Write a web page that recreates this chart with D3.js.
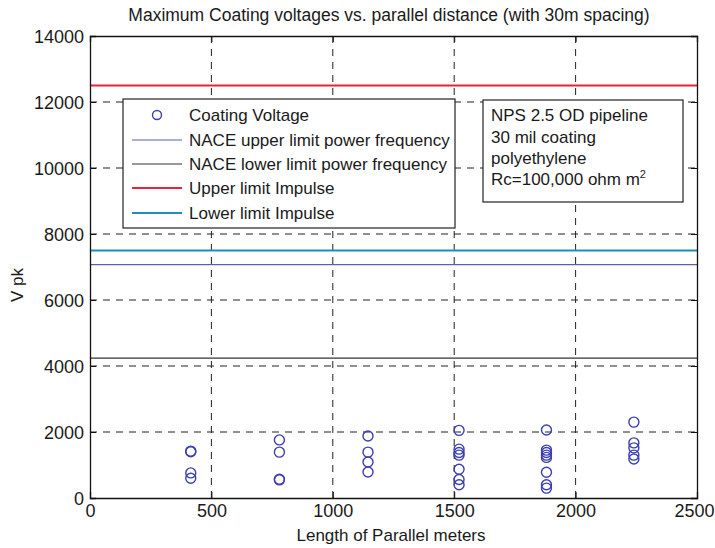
<!DOCTYPE html>
<html>
<head>
<meta charset="utf-8">
<script src="https://cdn.jsdelivr.net/npm/d3@7/dist/d3.min.js"></script>
<style>
  body { margin: 0; background: #fff; }
  svg { font-family: "Liberation Sans", Arial, sans-serif; }
</style>
</head>
<body>
<svg id="chart" width="715" height="548"></svg>
<script>
// Coating voltage samples (length of parallel [m], peak voltage [V])
const lengths = [415, 415, 415, 415,
                 780, 780, 780, 780,
                 1145, 1145, 1145, 1145,
                 1520, 1520, 1520, 1520, 1520, 1520, 1520,
                 1880, 1880, 1880, 1880, 1880, 1880, 1880, 1880,
                 2240, 2240, 2240, 2240, 2240];
const voltages = [1420, 1400, 760, 600,
                  1760, 1390, 570, 550,
                  1880, 1390, 1090, 790,
                  2050, 1480, 1380, 1300, 870, 560, 400,
                  2060, 1450, 1380, 1300, 1230, 780, 400, 300,
                  2300, 1670, 1520, 1300, 1180];

const limitNames = ["NACE upper limit power frequency", "NACE lower limit power frequency",
                    "Upper limit Impulse", "Lower limit Impulse"];
const limitValues = [7070, 4240, 12500, 7500];
const limitColors = ["#5a5fb0", "#333333", "#e8213c", "#1f8db5"];
const limitWidths = [1.2, 1.2, 2.2, 2.2];

const xTicks = [0, 500, 1000, 1500, 2000, 2500];
const yTicks = [0, 2000, 4000, 6000, 8000, 10000, 12000, 14000];
const noteLines = ["NPS 2.5 OD pipeline", "30 mil coating", "polyethylene", "Rc=100,000 ohm m"];

const svg = d3.select("#chart");
const m = {left: 90, right: 697, top: 36, bottom: 498};
const x = d3.scaleLinear().domain([0, 2500]).range([m.left, m.right]);
const y = d3.scaleLinear().domain([0, 14000]).range([m.bottom, m.top]);
const ink = "#1a1a1a";

// grid
const grid = svg.append("g").attr("stroke", "#222").attr("stroke-width", 1).attr("stroke-dasharray", "7,6");
xTicks.slice(1, -1).forEach(t => grid.append("line").attr("x1", x(t)).attr("x2", x(t)).attr("y1", m.top).attr("y2", m.bottom));
yTicks.slice(1, -1).forEach(t => grid.append("line").attr("x1", m.left).attr("x2", m.right).attr("y1", y(t)).attr("y2", y(t)));

// limit lines
limitValues.forEach((v, i) => {
  svg.append("line").attr("x1", m.left).attr("x2", m.right)
    .attr("y1", y(v)).attr("y2", y(v))
    .attr("stroke", limitColors[i]).attr("stroke-width", limitWidths[i]);
});

// points
svg.append("g").selectAll("circle").data(lengths).join("circle")
  .attr("cx", (d) => x(d)).attr("cy", (d, i) => y(voltages[i]))
  .attr("r", 5).attr("fill", "none").attr("stroke", "#3b3fb0").attr("stroke-width", 1.4);

// axes
const xAxis = svg.append("g").attr("transform", `translate(0,${m.bottom})`)
  .call(d3.axisBottom(x).tickValues(xTicks).tickSize(-6).tickPadding(6).tickFormat(d3.format("d")));
const xTop = svg.append("g").attr("transform", `translate(0,${m.top})`)
  .call(d3.axisTop(x).tickValues(xTicks).tickSize(-6).tickFormat(""));
const yAxis = svg.append("g").attr("transform", `translate(${m.left},0)`)
  .call(d3.axisLeft(y).tickValues(yTicks).tickSize(-6).tickPadding(6).tickFormat(d3.format("d")));
const yRight = svg.append("g").attr("transform", `translate(${m.right},0)`)
  .call(d3.axisRight(y).tickValues(yTicks).tickSize(-6).tickFormat(""));
[xAxis, xTop, yAxis, yRight].forEach(a => {
  a.select(".domain").attr("stroke", "#111").attr("stroke-width", 1.3);
  a.selectAll(".tick line").attr("stroke", "#111");
  a.selectAll("text").attr("font-size", "18px").attr("fill", ink).attr("font-family", "Liberation Sans, Arial, sans-serif");
});
yAxis.selectAll("text").attr("dy", "0.35em");
// keep the last x label inside the page, as in the reference
xAxis.selectAll(".tick text").filter(d => d === 2500).attr("text-anchor", "end").attr("x", 17);

// title and labels
svg.append("text").attr("x", 389).attr("y", 21).attr("text-anchor", "middle")
  .attr("font-size", "17.5px").attr("fill", ink)
  .text("Maximum Coating voltages vs. parallel distance (with 30m spacing)");
svg.append("text").attr("x", 391).attr("y", 541).attr("text-anchor", "middle")
  .attr("font-size", "17px").attr("fill", ink).text("Length of Parallel meters");
svg.append("text").attr("transform", "translate(23,285) rotate(-90)").attr("text-anchor", "middle")
  .attr("font-size", "17px").attr("fill", ink).text("V pk");

// legend
const lg = svg.append("g");
lg.append("rect").attr("x", 123).attr("y", 99).attr("width", 332).attr("height", 129)
  .attr("fill", "#fff").attr("stroke", "#222").attr("stroke-width", 1.2);
const rowY = [115, 140, 164, 188, 213];
lg.append("circle").attr("cx", 157).attr("cy", rowY[0]).attr("r", 4.5)
  .attr("fill", "none").attr("stroke", "#3b3fb0").attr("stroke-width", 1.4);
lg.append("text").attr("x", 189).attr("y", rowY[0]).attr("dy", "0.36em").attr("font-size", "17px").attr("fill", ink).text("Coating Voltage");
limitNames.forEach((n, i) => {
  lg.append("line").attr("x1", 132).attr("x2", 182).attr("y1", rowY[i + 1]).attr("y2", rowY[i + 1])
    .attr("stroke", limitColors[i]).attr("stroke-width", limitWidths[i]);
  lg.append("text").attr("x", 189).attr("y", rowY[i + 1]).attr("dy", "0.36em")
    .attr("font-size", "17px").attr("fill", ink).text(n);
});

// note box
const nb = svg.append("g");
nb.append("rect").attr("x", 483).attr("y", 100).attr("width", 200).attr("height", 102)
  .attr("fill", "#fff").attr("stroke", "#222").attr("stroke-width", 1.2);
const noteY = [121, 143, 164, 185];
noteLines.forEach((t, i) => {
  const tx = nb.append("text").attr("x", 491).attr("y", noteY[i]).attr("font-size", "17px").attr("fill", ink).text(t);
  if (i === noteLines.length - 1) tx.append("tspan").attr("font-size", "11px").attr("dy", "-7").text("2");
});
</script>
</body>
</html>
